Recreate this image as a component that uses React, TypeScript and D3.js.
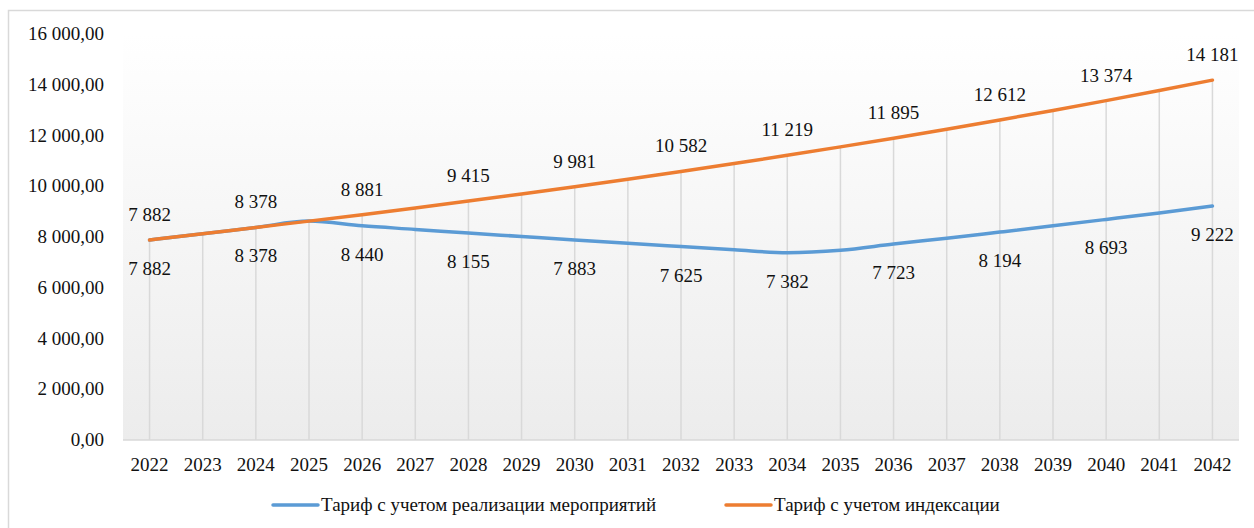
import React, { useEffect, useRef } from "react";
import * as d3 from "d3";

const years = [
  "2022", "2023", "2024", "2025", "2026", "2027", "2028", "2029", "2030", "2031", "2032",
  "2033", "2034", "2035", "2036", "2037", "2038", "2039", "2040", "2041", "2042",
];

// Тариф с учетом реализации мероприятий
const tariffMeasures = [
  7882, 8126, 8378, 8626, 8440, 8300, 8155, 8020, 7883, 7750, 7625,
  7500, 7382, 7480, 7723, 7950, 8194, 8440, 8693, 8950, 9222,
];

// Тариф с учетом индексации
const tariffIndexed = [
  7882, 8126, 8378, 8626, 8881, 9144, 9415, 9694, 9981, 10277, 10582,
  10896, 11219, 11552, 11895, 12248, 12612, 12987, 13374, 13772, 14181,
];

const yTicks = [0, 2000, 4000, 6000, 8000, 10000, 12000, 14000, 16000];

const seriesNames = ["Тариф с учетом реализации мероприятий", "Тариф с учетом индексации"];
const seriesColors = ["#5b9bd5", "#ed7d31"];

const W = 1254;
const H = 528;
const FONT = "Liberation Serif, Times New Roman, Tinos, serif";

export default function App() {
  const ref = useRef<SVGSVGElement | null>(null);

  useEffect(() => {
    const svg = d3.select(ref.current);
    svg.selectAll("*").remove();

    const locale = d3.formatLocale({
      decimal: ",",
      thousands: "\u00a0",
      grouping: [3],
      currency: ["", ""],
    });
    const fmtAxis = locale.format(",.2f");
    const fmtLabel = locale.format(",.0f");

    const left = 123;
    const right = 1239;
    const top = 34;
    const bottom = 440;

    const x = d3.scalePoint<string>().domain(years).range([left, right]).padding(0.5);
    const y = d3.scaleLinear().domain([0, 16000]).range([bottom, top]);

    // chart border
    svg
      .append("rect")
      .attr("x", 8.5)
      .attr("y", 10.5)
      .attr("width", 1250)
      .attr("height", 530)
      .attr("fill", "#fff")
      .attr("stroke", "#d9d9d9")
      .attr("stroke-width", 1.5);

    const defs = svg.append("defs");
    const grad = defs
      .append("linearGradient")
      .attr("id", "plotBg")
      .attr("x1", 0)
      .attr("y1", 0)
      .attr("x2", 0)
      .attr("y2", 1);
    grad.append("stop").attr("offset", "0%").attr("stop-color", "#ffffff");
    grad.append("stop").attr("offset", "100%").attr("stop-color", "#ececec");

    svg
      .append("rect")
      .attr("x", left)
      .attr("y", top)
      .attr("width", right - left)
      .attr("height", bottom - top)
      .attr("fill", "url(#plotBg)");

    // drop lines
    svg
      .append("g")
      .selectAll("line")
      .data(years)
      .enter()
      .append("line")
      .attr("x1", (d) => x(d)!)
      .attr("x2", (d) => x(d)!)
      .attr("y1", bottom)
      .attr("y2", (d, i) => y(Math.max(tariffIndexed[i], tariffMeasures[i])))
      .attr("stroke", "#d9d9d9")
      .attr("stroke-width", 1.5);

    // x axis line
    svg
      .append("line")
      .attr("x1", left)
      .attr("x2", right)
      .attr("y1", bottom)
      .attr("y2", bottom)
      .attr("stroke", "#d9d9d9")
      .attr("stroke-width", 1.5);

    const txt = (sel: any) =>
      sel.attr("font-family", FONT).attr("font-size", 19).attr("fill", "#111");

    // y tick labels
    svg
      .append("g")
      .selectAll("text")
      .data(yTicks)
      .enter()
      .append("text")
      .attr("x", 104)
      .attr("y", (d) => y(d) + 6)
      .attr("text-anchor", "end")
      .call(txt)
      .text((d) => fmtAxis(d));

    // x tick labels
    svg
      .append("g")
      .selectAll("text")
      .data(years)
      .enter()
      .append("text")
      .attr("x", (d) => x(d)!)
      .attr("y", 471)
      .attr("text-anchor", "middle")
      .call(txt)
      .text((d) => d);

    const line = d3
      .line<number>()
      .x((d, i) => x(years[i])!)
      .y((d) => y(d))
      .curve(d3.curveMonotoneX);

    [tariffMeasures, tariffIndexed].forEach((s, k) => {
      svg
        .append("path")
        .datum(s)
        .attr("d", line)
        .attr("fill", "none")
        .attr("stroke", seriesColors[k])
        .attr("stroke-width", 3.5)
        .attr("stroke-linecap", "round");
    });

    // data labels on even years
    const labelIdx = years.map((d, i) => i).filter((i) => i % 2 === 0);
    svg
      .append("g")
      .selectAll("text")
      .data(labelIdx)
      .enter()
      .append("text")
      .attr("x", (i) => x(years[i])!)
      .attr("y", (i) => y(tariffIndexed[i]) - 19)
      .attr("text-anchor", "middle")
      .call(txt)
      .text((i) => fmtLabel(tariffIndexed[i]));

    svg
      .append("g")
      .selectAll("text")
      .data(labelIdx)
      .enter()
      .append("text")
      .attr("x", (i) => x(years[i])!)
      .attr("y", (i) => y(tariffMeasures[i]) + 35)
      .attr("text-anchor", "middle")
      .call(txt)
      .text((i) => fmtLabel(tariffMeasures[i]));

    // legend
    const legendX = [273, 726];
    seriesNames.forEach((name, k) => {
      const g = svg.append("g").attr("transform", `translate(${legendX[k]},505)`);
      g.append("line")
        .attr("x1", 0)
        .attr("x2", 45)
        .attr("stroke", seriesColors[k])
        .attr("stroke-width", 3.5)
        .attr("stroke-linecap", "round");
      g.append("text")
        .attr("x", 48)
        .attr("y", 6)
        .call(txt)
        .text(name);
    });
  }, []);

  return (
    <div style={{ position: "absolute", left: 0, top: 0 }}>
      <svg ref={ref} width={W} height={H} style={{ display: "block" }} />
    </div>
  );
}
